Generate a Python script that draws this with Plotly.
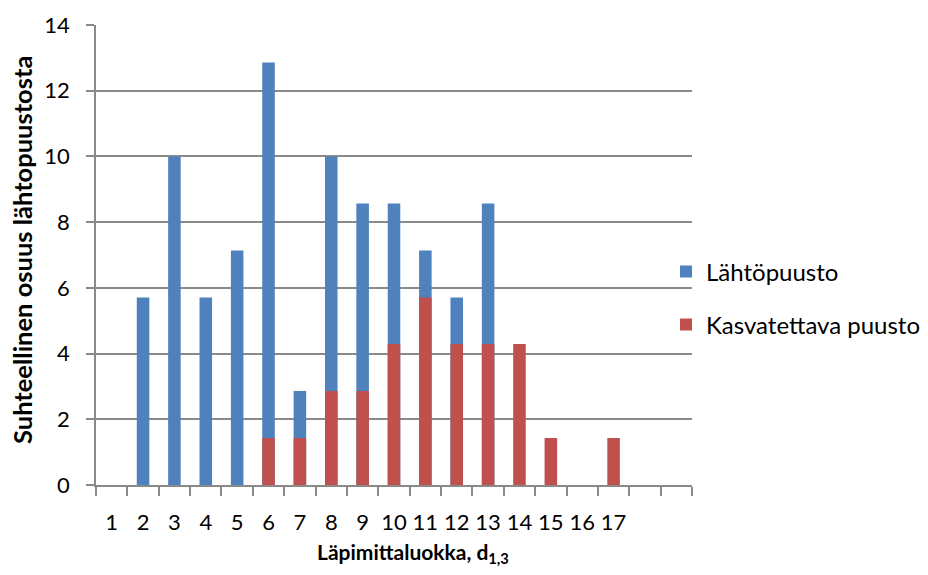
import plotly.graph_objects as go

classes = list(range(1, 20))
tick_labels = [str(i) for i in range(1, 18)]
lahtopuusto = [0, 5.71, 10.0, 5.71, 7.14, 12.86, 2.86, 10.0, 8.57, 8.57, 7.14, 5.71, 8.57, 0, 0, 0, 0, 0, 0]
kasvatettava = [0, 0, 0, 0, 0, 1.43, 1.43, 2.86, 2.86, 4.29, 5.71, 4.29, 4.29, 4.29, 1.43, 0, 1.43, 0, 0]

FONT = "Lato"
GRID = "#8a8a8a"

L, R, T, B = 96, 236, 25, 90
W, H = 928, 575
pw, ph = W - L - R, H - T - B


def px(x):
    return (x - L) / pw


def py(y):
    return 1 - (y - T) / ph


fig = go.Figure()
fig.add_trace(go.Bar(x=classes, y=lahtopuusto, name="Lähtöpuusto", width=0.4,
                     marker=dict(color="#4F81BD", line=dict(width=0)), legend="legend"))
fig.add_trace(go.Bar(x=classes, y=kasvatettava, name="Kasvatettava puusto", width=0.4,
                     marker=dict(color="#C0504D", line=dict(width=0)), legend="legend2"))

fig.update_layout(
    width=W, height=H,
    margin=dict(l=L, r=R, t=T, b=B, autoexpand=False),
    barmode="overlay",
    plot_bgcolor="white", paper_bgcolor="white",
    font=dict(family=FONT, size=22, color="black"),
    showlegend=True,
    legend=dict(x=px(666), y=py(272), xanchor="left", yanchor="middle",
                font=dict(family=FONT, size=24), itemwidth=30, bgcolor="rgba(0,0,0,0)"),
    legend2=dict(x=px(666), y=py(325), xanchor="left", yanchor="middle",
                 font=dict(family=FONT, size=24), itemwidth=30, bgcolor="rgba(0,0,0,0)"),
    xaxis=dict(
        range=[0.5, 19.5], tickmode="array", tickvals=list(range(1, 18)), ticktext=tick_labels,
        ticks="", showgrid=False, showline=True, linecolor=GRID, linewidth=1.5,
        ticklabelstandoff=17, zeroline=False,
        minor=dict(tickmode="linear", tick0=0.5, dtick=1, ticks="outside", ticklen=9,
                   tickcolor=GRID, tickwidth=1.5, showgrid=False),
    ),
    yaxis=dict(
        range=[0, 14], dtick=2, showgrid=True, gridcolor=GRID, gridwidth=1.5,
        showline=True, linecolor=GRID, linewidth=1.5, ticks="outside", ticklen=8,
        tickcolor=GRID, tickwidth=1.5, zeroline=False, ticklabelstandoff=12,
    ),
    annotations=[
        dict(text="<b>Läpimittaluokka, d<sub>1,3</sub></b>", x=px(413), y=py(553),
             xref="paper", yref="paper", xanchor="center", yanchor="middle",
             showarrow=False, font=dict(family=FONT, size=21)),
        dict(text="<b>Suhteellinen osuus lähtopuustosta</b>", x=px(22), y=py(250),
             xref="paper", yref="paper", xanchor="center", yanchor="middle",
             showarrow=False, textangle=-90, font=dict(family=FONT, size=25.5)),
    ],
)

fig.write_html("out.html")
